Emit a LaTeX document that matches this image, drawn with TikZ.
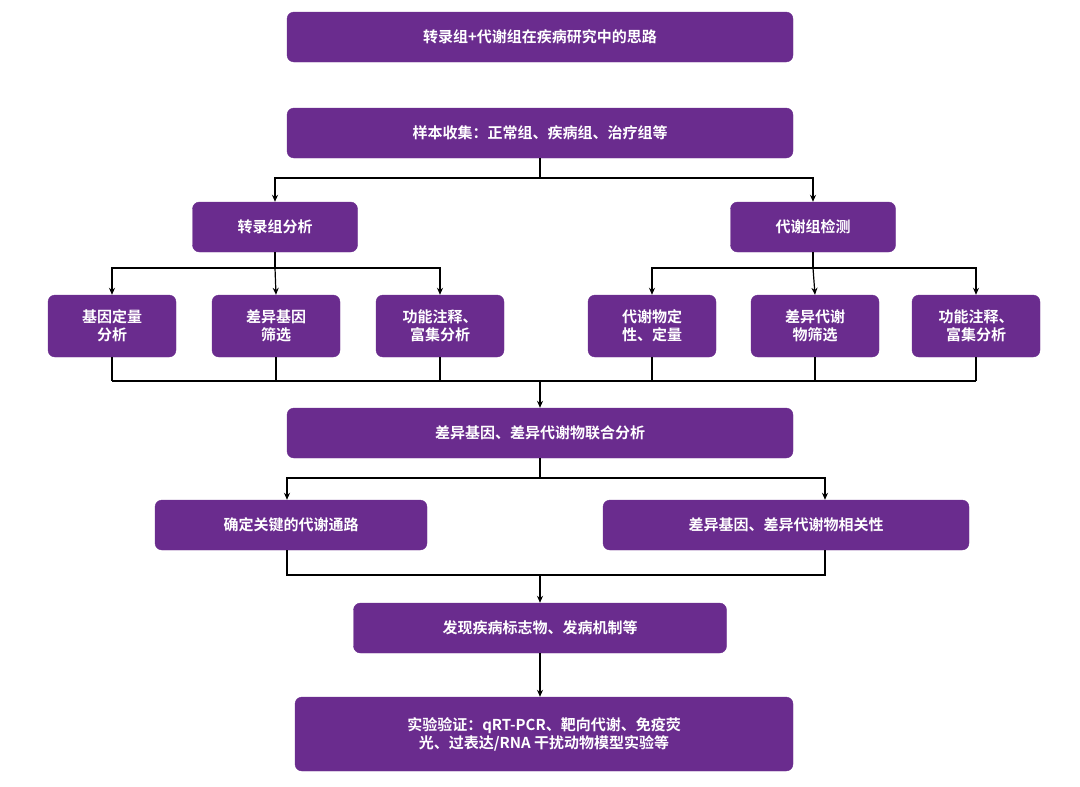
\documentclass[tikz,border=0pt]{standalone}
\usepackage{fontspec}
\setmainfont{Noto Sans CJK SC}[BoldFont={Noto Sans CJK SC Bold}]
\usetikzlibrary{arrows.meta}
\definecolor{pp}{HTML}{6A2C8E}
\begin{document}
\begin{tikzpicture}[x=1pt,y=-1pt,
 box/.style={draw=pp,fill=pp,rounded corners=7pt,text=white,font=\bfseries\fontsize{15}{18}\selectfont,inner sep=0pt,align=center},
 ln/.style={line width=1.2pt},
 ar/.style={line width=1.2pt,-{Stealth[length=7pt,width=6pt]}}]
\useasboundingbox (0,0) rectangle (1080,787);
\node[box,minimum width=506pt,minimum height=50pt] (t) at (540,37) {转录组+代谢组在疾病研究中的思路};
\node[box,minimum width=506pt,minimum height=50pt] (s) at (540,133) {样本收集：正常组、疾病组、治疗组等};
\node[box,minimum width=165pt,minimum height=50pt] (a) at (275,227) {转录组分析};
\node[box,minimum width=165pt,minimum height=50pt] (b) at (813,227) {代谢组检测};
\foreach \n/\x/\txt in {a1/112/{基因定量\\分析},a2/276/{差异基因\\筛选},a3/440/{功能注释、\\富集分析},b1/652/{代谢物定\\性、定量},b2/815/{差异代谢\\物筛选},b3/976/{功能注释、\\富集分析}}
  \node[box,minimum width=128pt,minimum height=62pt] (\n) at (\x,326) {\txt};
\node[box,minimum width=506pt,minimum height=50pt] (j) at (540,433) {差异基因、差异代谢物联合分析};
\node[box,minimum width=272pt,minimum height=50pt] (c1) at (291,525) {确定关键的代谢通路};
\node[box,minimum width=366pt,minimum height=50pt] (c2) at (786,525) {差异基因、差异代谢物相关性};
\node[box,minimum width=373pt,minimum height=50pt] (f) at (540,628) {发现疾病标志物、发病机制等};
\node[box,minimum width=498pt,minimum height=74pt] (e) at (544,734) {实验验证：qRT-PCR、靶向代谢、免疫荧\\光、过表达/RNA 干扰动物模型实验等};
% level 1
\draw[ln] (s.south) -- (540,178);
\draw[ar] (540,178) -| (a.north);
\draw[ar] (540,178) -| (b.north);
\draw[ln] (a.south) -- (275,268);
\draw[ar] (275,268) -| (a1.north);
\draw[ar] (275,268) -- (a2.north);
\draw[ar] (275,268) -| (a3.north);
\draw[ln] (b.south) -- (813,268);
\draw[ar] (813,268) -| (b1.north);
\draw[ar] (813,268) -- (b2.north);
\draw[ar] (813,268) -| (b3.north);
\foreach \n in {a1,a2,a3,b1,b2,b3} \draw[ln] (\n.south) -- (\n.south |- 0,381);
\draw[ln] (112,381) -- (976,381);
\draw[ar] (540,381) -- (j.north);
\draw[ln] (j.south) -- (540,478);
\draw[ar] (540,478) -| (c1.north -| 287,0);
\draw[ar] (540,478) -| (c2.north -| 825,0);
\draw[ln] (c1.south -| 287,0) -- (287,575) -- (825,575) -- (c2.south -| 825,0);
\draw[ar] (540,575) -- (f.north);
\draw[ar] (f.south) -- (e.north -| f.south);
\end{tikzpicture}
\end{document}
